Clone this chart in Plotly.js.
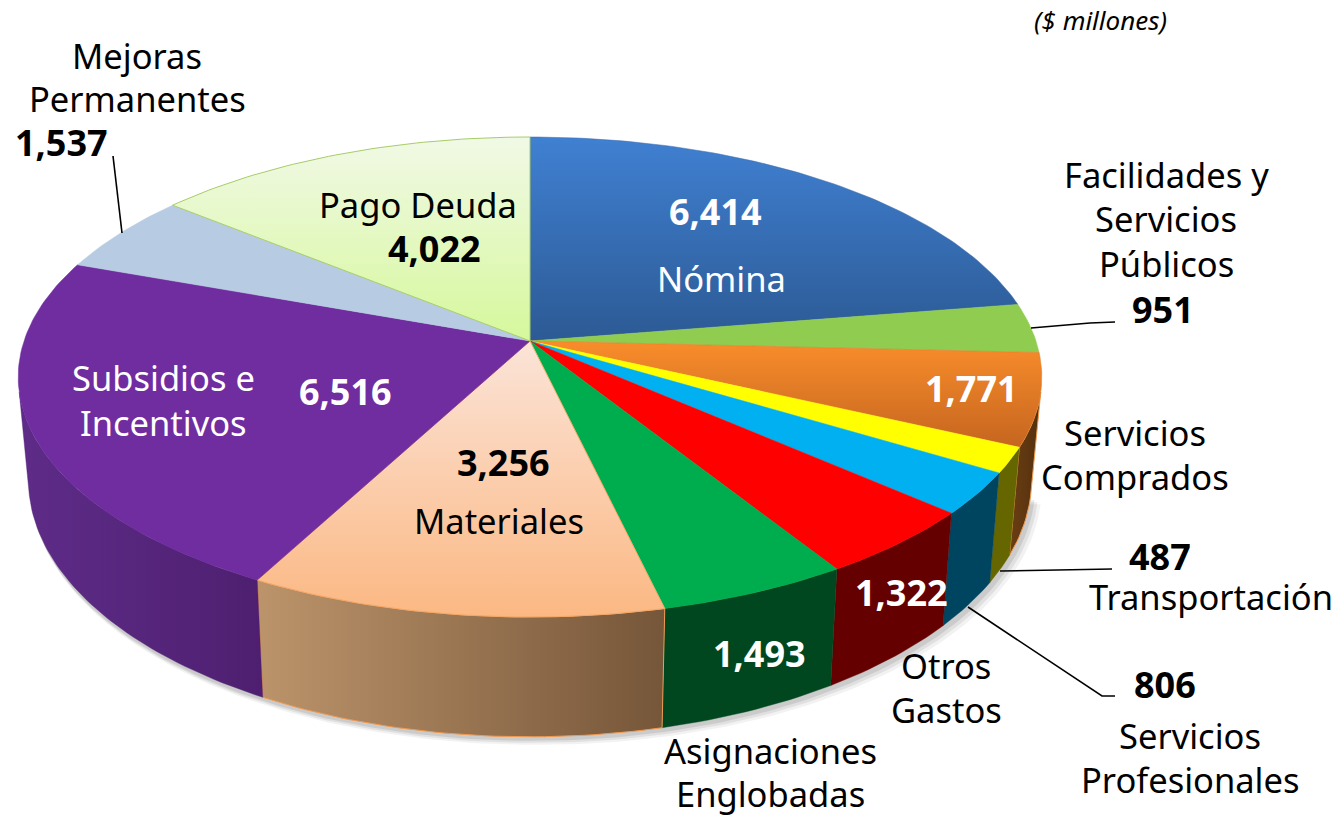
<!DOCTYPE html>
<html><head><meta charset="utf-8">
<script src="https://cdn.plot.ly/plotly-3.0.1.min.js"></script>
<style>html,body{margin:0;padding:0;background:#fff}#c{width:1341px;height:816px}</style>
</head><body><div id="c"></div>
<script>
// ---- data, clockwise from 12 o'clock ----
const categories=["Nómina","Facilidades y Servicios Públicos","Servicios Comprados","Transportación","Servicios Profesionales","Otros Gastos","Asignaciones Englobadas","Materiales","Subsidios e Incentivos","Mejoras Permanentes","Pago Deuda"];
const values=[6414,951,1771,487,806,1322,1493,3256,6516,1537,4022];
const topStart=["#4080d2","#90cc50","#f98d2b","#ffff00","#00b0f0","#ff0000","#00ad4e","#fbe4d8","#6f2da0","#b7cce2","#f1f9e6"];
const topStop =["#2c5a94","#90cc50","#c5651f","#ffff00","#00b0f0","#ff0000","#00ad4e","#fbb883","#6f2da0","#b7cce2","#d6f89c"];
const sideStart=["#2c5a94","#4a6b20","#6a3e12","#666600","#004560","#640000","#00471f","#bc946b","#5e2c88","#5a6a80","#6a7a50"];
const sideStop =["#2c5a94","#4a6b20","#54300e","#666600","#004560","#640000","#00471f","#765639","#4e1f70","#5a6a80","#6a7a50"];
const edgeColors=["#3868a8","#90cc50","#e07a25","#ffff00","#00b0f0","#ff0000","#00ad4e","#f4a868","#6f2da0","#b7cce2","#a8cc68"];
const textLabels=["($ millones)","Mejoras","Permanentes","1,537","Pago Deuda","4,022","6,414","Nómina","Facilidades y","Servicios","Públicos","951","1,771","Servicios","Comprados","487","Transportación","806","Servicios","Profesionales","1,322","Otros","Gastos","1,493","Asignaciones","Englobadas","3,256","Materiales","Subsidios e","Incentivos","6,516"];
const labelX=[1100,137,137,61,418,434,715,721,1166,1166,1166,1163,971,1135,1135,1160,1211,1165,1190,1190,901,946,946,759,770,770,503,499,163,163,345];
const labelY=[20,55,98,142,204,248,211,278,174,218,263,309,388,432,476,556,596,684,735,779,592,665,709,653,750,793,462,520,377,422,391];
const labelStyle=["i","k","k","b","k","b","w","W","k","k","k","b","w","k","k","b","k","b","k","k","w","k","k","w","k","k","b","k","W","W","w"];
const leaderX=[[113,122],[1031,1090,1115],[1000,1112],[968,1102,1115]];
const leaderY=[[156,233],[328,323,322],[571,569],[607,696,696]];

// ---- projection of the tilted disc ----
const CX=530,CY=341,A=0.15,RU=506,RV=234.6,WALL_FROM=102.2,WALL_TO=257.8;
const total=values.reduce((s,v)=>s+v,0);
function faceAt(deg){const t=deg*Math.PI/180,u=Math.sin(t),v=Math.cos(t),w=1+A*v;return [CX+RU*u/w,CY-RV*v/w];}
function rimAt(deg){const p=faceAt(deg);return [CX+(p[0]-CX)*0.98,CY+100.5+(p[1]-CY)*1.07];}
function arc(fn,a,b){const n=Math.max(2,Math.ceil(Math.abs(b-a)));const o=[];for(let i=0;i<=n;i++)o.push(fn(a+(b-a)*i/n));return o;}
function grad(type,c0,c1,s,e){return {type:type,colorscale:[[0,c0],[1,c1]],start:s,stop:e};}
function poly(pts,extra){return Object.assign({type:"scatter",mode:"lines",x:pts.map(p=>p[0]),y:pts.map(p=>p[1]),fill:"toself",hoverinfo:"skip",showlegend:false},extra);}

const traces=[];
// soft shadow under the body
[[10,8,0.05],[7,6,0.07],[4,4,0.09]].forEach(s=>{
  const pts=arc(rimAt,WALL_FROM,WALL_TO).map(p=>[p[0]+s[0]*(p[0]>CX?1:0.3),p[1]+s[1]]);
  traces.push(poly(pts,{fillcolor:"rgba(0,0,0,"+s[2]+")",line:{width:0}}));
});
// slice angles
let acc=0;const angles=values.map(v=>{const a=acc/total*360;acc+=v;return [a,acc/total*360];});
// side walls, only the part of each slice facing the viewer
angles.forEach((a,i)=>{
  const s=Math.max(a[0],WALL_FROM),e=Math.min(a[1],WALL_TO);
  if(e<=s) return;
  const outer=arc(faceAt,s,e),inner=arc(rimAt,e,s);
  const pts=outer.concat(inner);pts.push(outer[0]);
  const xs=pts.map(p=>p[0]),x0=Math.min(...xs),x1=Math.max(...xs);
  traces.push(poly(pts,{fillgradient:grad("horizontal",sideStart[i],sideStop[i],x0,x1),line:{width:(i===7||i===2)?1:0.4,color:(i===7||i===2)?"#f09a50":sideStop[i]}}));
});
// top faces
angles.forEach((a,i)=>{
  const pts=[[CX,CY]].concat(arc(faceAt,a[0],a[1]));pts.push([CX,CY]);
  const ys=pts.map(p=>p[1]),y0=Math.min(...ys),y1=Math.max(...ys);
  const sty=topStart[i]===topStop[i]?{fillcolor:topStart[i]}:{fillgradient:grad("vertical",topStart[i],topStop[i],y0,y1)};
  traces.push(poly(pts,Object.assign(sty,{line:{width:(i===7||i===10)?1:0.5,color:edgeColors[i]}})));
});
// leader lines
leaderX.forEach((lx,i)=>traces.push({type:"scatter",mode:"lines",x:lx,y:leaderY[i],line:{color:"#000",width:1.6},hoverinfo:"skip",showlegend:false}));

const FONT='"Noto Sans",Tahoma,sans-serif';
const annotations=textLabels.map((t,i)=>{
  const st=labelStyle[i];
  const size=st==="i"?26:(st==="b"||st==="w")?36:34.5;
  const color=(st==="w"||st==="W")?"#fff":"#000";
  const text=(st==="b"||st==="w")?"<b>"+t+"</b>":(st==="i"?"<i>"+t+"</i>":t);
  return {x:labelX[i],y:labelY[i],xref:"x",yref:"y",text:text,showarrow:false,xanchor:"center",yanchor:"middle",font:{family:FONT,size:size,color:color}};
});

Plotly.newPlot("c",traces,{
  width:1341,height:816,margin:{l:0,r:0,t:0,b:0},paper_bgcolor:"#fff",plot_bgcolor:"#fff",showlegend:false,
  xaxis:{range:[0,1341],visible:false,fixedrange:true},
  yaxis:{range:[816,0],visible:false,fixedrange:true},
  annotations:annotations
},{displayModeBar:false,staticPlot:true});
</script></body></html>
